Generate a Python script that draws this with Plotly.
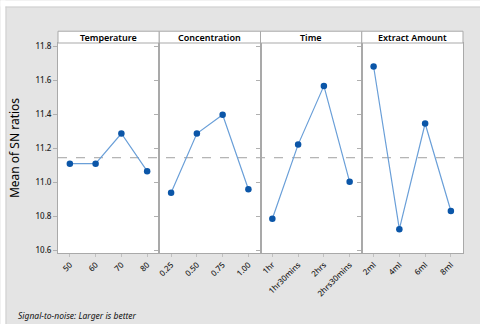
import numpy as np
import plotly.graph_objects as go
from plotly.subplots import make_subplots

# Factor names and their levels
factors = ["Temperature", "Concentration", "Time", "Extract Amount"]
temp_levels = ["50", "60", "70", "80"]
conc_levels = ["0.25", "0.50", "0.75", "1.00"]
time_levels = ["1hr", "1hr30mins", "2hrs", "2hrs30mins"]
extract_levels = ["2ml", "4ml", "6ml", "8ml"]

# Mean of SN ratios for each level
temp_sn = [11.111, 11.111, 11.288, 11.067]
conc_sn = [10.940, 11.288, 11.398, 10.961]
time_sn = [10.787, 11.223, 11.568, 11.004]
extract_sn = [11.682, 10.726, 11.347, 10.833]

levels = [temp_levels, conc_levels, time_levels, extract_levels]
values = [temp_sn, conc_sn, time_sn, extract_sn]
grand_mean = float(np.mean(np.concatenate([np.array(v) for v in values])))

W, H = 480, 324
L, R, T, B = 57.5, 462.7, 42.5, 252.7  # plot area in pixels


def px_x(p):
    return (p - L) / (R - L)


def px_y(p):
    return (B - p) / (B - T)


FONT = "Noto Sans"
LINE_COL = "#a9a9a9"

fig = make_subplots(rows=1, cols=4, shared_yaxes=True, horizontal_spacing=0)

for i, (lv, vals) in enumerate(zip(levels, values)):
    fig.add_trace(
        go.Scatter(
            x=lv, y=vals, mode="lines+markers",
            line=dict(color="#6a9fd8", width=1.2),
            marker=dict(color="#0b56a8", size=6.5),
            showlegend=False,
        ),
        row=1, col=i + 1,
    )
    fig.update_xaxes(
        type="category", categoryorder="array", categoryarray=lv,
        range=[-0.46, 3.47], showgrid=False, zeroline=False,
        showline=True, mirror=True, linecolor=LINE_COL, linewidth=1,
        ticks="outside", ticklen=3, tickcolor="#c0c0c0",
        tickangle=-45, tickfont=dict(family=FONT, size=8, color="#222222", weight=500),
        row=1, col=i + 1,
    )

fig.update_yaxes(
    range=[10.586, 11.82], tick0=10.6, dtick=0.2, tickformat=".1f",
    showgrid=False, zeroline=False,
    showline=True, mirror=True, linecolor=LINE_COL, linewidth=1,
    ticks="outside", ticklen=4, tickcolor="#b0b0b0",
    tickfont=dict(family=FONT, size=8, color="#222222", weight=500),
)
fig.update_yaxes(
    title=dict(text="Mean of SN ratios", font=dict(family=FONT, size=12, color="#000000"),
               standoff=13),
    row=1, col=1,
)

shapes = []
annotations = []

# outer white margin and frame
shapes.append(dict(type="rect", xref="paper", yref="paper",
                   x0=px_x(0), x1=px_x(5), y0=px_y(H), y1=px_y(0),
                   fillcolor="white", line=dict(width=0), layer="above"))
shapes.append(dict(type="rect", xref="paper", yref="paper",
                   x0=px_x(0), x1=px_x(W), y0=px_y(6), y1=px_y(0),
                   fillcolor="white", line=dict(width=0), layer="above"))
shapes.append(dict(type="line", xref="paper", yref="paper",
                   x0=px_x(5.5), x1=px_x(5.5), y0=px_y(H), y1=px_y(6),
                   line=dict(color="#cfcfcf", width=1), layer="above"))
shapes.append(dict(type="line", xref="paper", yref="paper",
                   x0=px_x(5), x1=px_x(W), y0=px_y(6.5), y1=px_y(6.5),
                   line=dict(color="#cfcfcf", width=1), layer="above"))

# grand-mean reference line across all panels
shapes.append(dict(type="line", xref="paper", yref="y",
                   x0=0, x1=1, y0=grand_mean, y1=grand_mean,
                   line=dict(color="#a0a0a0", width=1, dash="dash"), layer="below"))

# strip headers with factor names
strip_top = px_y(30.7)
for i, name in enumerate(factors):
    x0, x1 = i / 4, (i + 1) / 4
    shapes.append(dict(type="rect", xref="paper", yref="paper",
                       x0=x0, x1=x1, y0=1, y1=strip_top,
                       fillcolor="white", line=dict(color=LINE_COL, width=1), layer="above"))
    annotations.append(dict(text=name, xref="paper", yref="paper",
                            x=(x0 + x1) / 2, y=(1 + strip_top) / 2,
                            xanchor="center", yanchor="middle", showarrow=False,
                            font=dict(family=FONT, size=9, color="#000000", weight=600)))

annotations.append(dict(text="<i>Signal-to-noise: Larger is better</i>",
                        xref="paper", yref="paper", x=px_x(15), y=px_y(315),
                        xanchor="left", yanchor="middle", showarrow=False,
                        font=dict(family=FONT, size=8.5, color="#111111")))

fig.update_layout(
    width=W, height=H,
    margin=dict(l=L, r=W - R, t=T, b=H - B),
    paper_bgcolor="#e4e4e4", plot_bgcolor="white",
    shapes=shapes, annotations=annotations,
)

fig.write_html("out.html")
